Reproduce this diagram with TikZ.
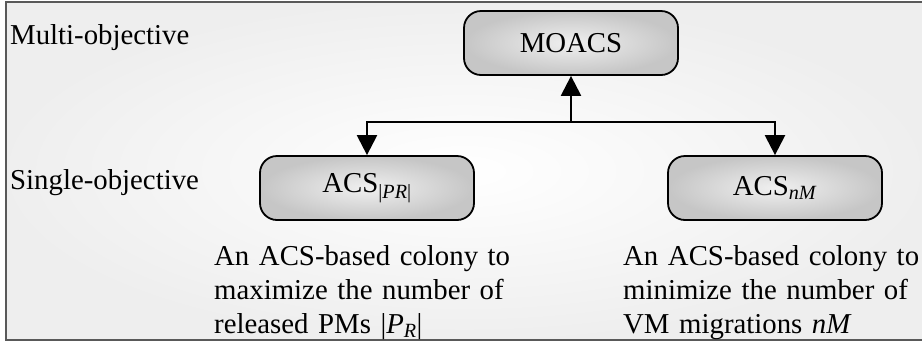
\documentclass[tikz,border=0pt]{standalone}
\usepackage{fontspec}
\setmainfont{Liberation Serif}
\usetikzlibrary{arrows.meta,positioning}

\begin{document}
\begin{tikzpicture}[x=1pt,y=-1pt,
		colony/.style={draw=black,line width=1.8pt,rounded corners=17pt,minimum width=214pt,minimum height=64pt,inner color=gray!12,outer color=gray!45,font=\fontsize{28.8}{34}\selectfont},
		level/.style={anchor=west,inner sep=0pt,font=\fontsize{28.8}{34}\selectfont},
		note/.style={anchor=north west,inner sep=0pt,text width=300pt,align=left,font=\fontsize{28.8}{34}\selectfont},
		link/.style={line width=2.4pt},
		>={Triangle[length=20pt,width=20pt]}]
		\useasboundingbox (0,0) rectangle (922,341);
		\shade[inner color=white,outer color=gray!13] (6,2) rectangle (922,340);
		\draw[gray!70!black,line width=1.4pt] (922,2) -- (6,2) -- (6,340) -- (922,340);
		\node[level] (multi) at (10,38) {Multi-objective};
		\node[level] (single) at (10,183) {Single-objective};
		\node[colony] (moacs) at (571,43) {MOACS};
		\node[colony] (acspr) at (367,188) {ACS\textsubscript{|\textit{PR}|}};
		\node[colony] (acsnm) at (775,188) {ACS\textsubscript{\textit{nM}}};
		\coordinate (split) at (571,122);
		\draw[link,->] (split) -- (moacs);
		\draw[link,->] (split) -| (acspr);
		\draw[link,->] (split) -| (acsnm);
		\node[note] (notepr) at (214,245) {An ACS-based colony to\\maximize the number of\\released PMs |\textit{P}\textsubscript{\textit{R}}|};
		\node[note] (notenm) at (623,245) {An ACS-based colony to\\minimize the number of\\VM migrations \textit{nM}};
	\end{tikzpicture}
\end{document}
